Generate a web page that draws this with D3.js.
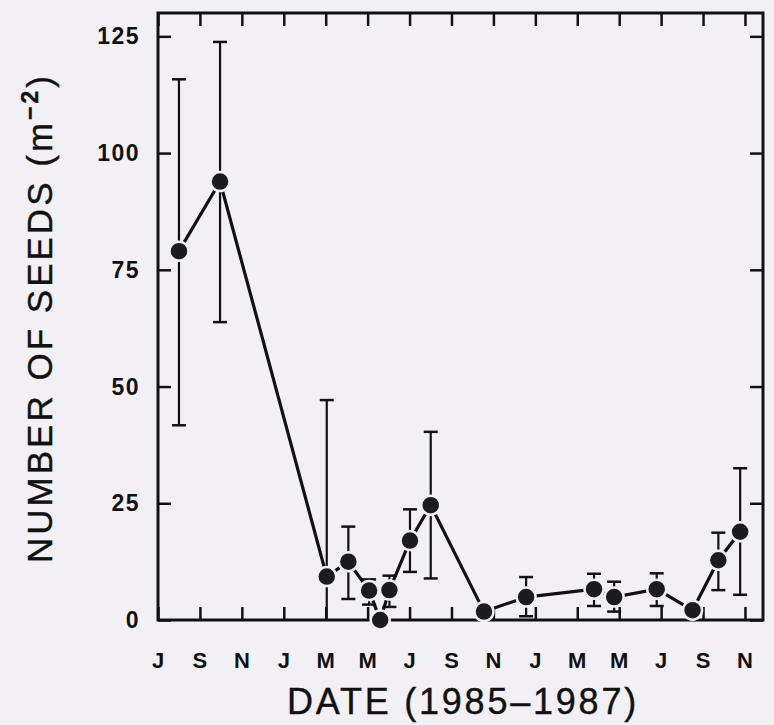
<!DOCTYPE html>
<html><head><meta charset="utf-8">
<script src="https://cdn.jsdelivr.net/npm/d3@7"></script>
<style>
html,body{margin:0;padding:0;background:#f3f0f5;}
svg{display:block;}
text{font-family:Arial,"Liberation Sans",Helvetica,sans-serif;fill:#111;}
</style></head>
<body>
<svg id="c" width="774" height="725"></svg>
<script>
// months since July 1985
const months = [1.0, 2.96, 8.05, 9.08, 10.07, 10.6, 11.04, 12.02, 13.01, 15.55, 17.56, 20.8, 21.76, 23.79, 25.5, 26.73, 27.77];
const seeds  = [79, 93.9, 9.3, 12.5, 6.3, 0, 6.4, 17.0, 24.6, 1.8, 4.9, 6.6, 4.9, 6.6, 2.1, 12.8, 18.9];
const upper  = [115.8, 123.8, 47.1, 20.0, 8.7, null, 9.5, 23.7, 40.3, null, 9.2, 9.9, 8.2, 10.0, null, 18.7, 32.5];
const lower  = [41.7, 63.8, 0, 4.5, 3.3, null, 2.8, 10.3, 8.9, null, 0.8, 3.0, 1.8, 3.0, null, 6.4, 5.4];
const xTickMonths = [0,2,4,6,8,10,12,14,16,18,20,22,24,26,28];
const xTickLabels = ["J","S","N","J","M","M","J","S","N","J","M","M","J","S","N"];
const yTicks = [0,25,50,75,100,125];

const svg = d3.select("#c");
const L=158, R=763, T=13, B=620;
const x = d3.scaleLinear().domain([0,28.86]).range([L,R]);
const y = d3.scaleLinear().domain([0,130]).range([B,T]);
const ink="#111";

svg.append("rect").attr("x",L).attr("y",T).attr("width",R-L).attr("height",B-T)
  .attr("fill","none").attr("stroke",ink).attr("stroke-width",3);

const gB = svg.append("g").attr("transform",`translate(0,${B})`)
  .call(d3.axisTop(x).tickValues(xTickMonths).tickSize(13).tickFormat(""));
const gT = svg.append("g").attr("transform",`translate(0,${T})`)
  .call(d3.axisBottom(x).tickValues(xTickMonths).tickSize(13).tickFormat(""));
const gL = svg.append("g").attr("transform",`translate(${L},0)`)
  .call(d3.axisRight(y).tickValues(yTicks).tickSize(13).tickFormat(""));
const gR = svg.append("g").attr("transform",`translate(${R},0)`)
  .call(d3.axisLeft(y).tickValues(yTicks).tickSize(13).tickFormat(""));
[gB,gT,gL,gR].forEach(g=>{
  g.select(".domain").remove();
  g.selectAll("line").attr("stroke",ink).attr("stroke-width",2.5);
});

svg.append("g").selectAll("text").data(xTickMonths).join("text")
  .attr("x",d=>x(d)).attr("y",668).attr("text-anchor","middle")
  .style("font-size","22px").style("font-weight","bold")
  .text((d,i)=>xTickLabels[i]);
svg.append("g").selectAll("text").data(yTicks).join("text")
  .attr("x",140).attr("y",d=>y(d)+8).attr("text-anchor","end")
  .style("font-size","23px").style("font-weight","bold").style("letter-spacing","1.5px")
  .text(d=>d);

function fitSpacing(sel, target, n){
  const w = sel.node().getBBox();
  const cur = Math.max(w.width, w.height);
  sel.style("letter-spacing", ((target-cur)/n)+"px");
}

const xt = svg.append("text").attr("x",463).attr("y",714).attr("text-anchor","middle")
  .style("font-size","36px").attr("stroke",ink).attr("stroke-width",0.4)
  .text("DATE (1985\u20131987)");
fitSpacing(xt, 352, 16);

const yt = svg.append("text").attr("transform","translate(52,318) rotate(-90)")
  .attr("text-anchor","middle").style("font-size","35px")
  .attr("stroke",ink).attr("stroke-width",0.4);
yt.append("tspan").text("NUMBER OF SEEDS (m");
yt.append("tspan").attr("dy",-14).style("font-size","23px").style("font-weight","bold").text("\u22122");
yt.append("tspan").attr("dy",14).text(")");
fitSpacing(yt, 490, 21);

const data = months.map((m,i)=>({m, v:seeds[i], hi:upper[i], lo:lower[i]}));
const eb = data.filter(d=>d.hi!==null);
const g = svg.append("g");
g.selectAll("line.eb").data(eb).join("line").attr("class","eb")
  .attr("x1",d=>x(d.m)).attr("x2",d=>x(d.m)).attr("y1",d=>y(d.hi)).attr("y2",d=>y(d.lo))
  .attr("stroke",ink).attr("stroke-width",2.2);
g.selectAll("line.cap-h").data(eb).join("line").attr("class","cap-h")
  .attr("x1",d=>x(d.m)-7).attr("x2",d=>x(d.m)+7).attr("y1",d=>y(d.hi)).attr("y2",d=>y(d.hi))
  .attr("stroke",ink).attr("stroke-width",2.5);
g.selectAll("line.cap-l").data(eb.filter(d=>d.lo>0)).join("line").attr("class","cap-l")
  .attr("x1",d=>x(d.m)-7).attr("x2",d=>x(d.m)+7).attr("y1",d=>y(d.lo)).attr("y2",d=>y(d.lo))
  .attr("stroke",ink).attr("stroke-width",2.5);

g.append("path").datum(data)
  .attr("d",d3.line().x(d=>x(d.m)).y(d=>y(d.v)))
  .attr("fill","none").attr("stroke",ink).attr("stroke-width",3.2);

g.selectAll("circle").data(data).join("circle")
  .attr("cx",d=>x(d.m)).attr("cy",d=>y(d.v)).attr("r",9.5)
  .attr("fill","#1c1c1e").attr("stroke","#f3f0f5").attr("stroke-width",2.5);
</script>
</body></html>
